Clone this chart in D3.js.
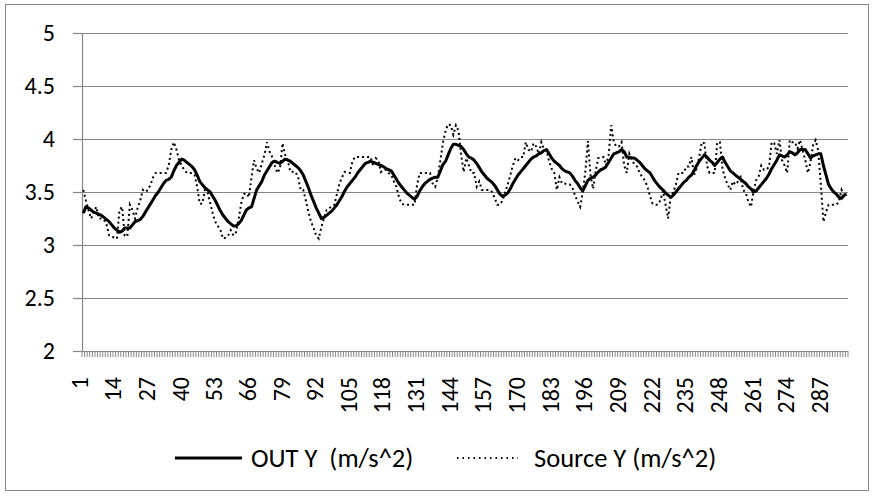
<!DOCTYPE html>
<html>
<head>
<meta charset="utf-8">
<script src="https://cdn.jsdelivr.net/npm/d3@7"></script>
<style>
	body { margin: 0; background: #fff; }
	text { font-family: Carlito, Lato, "Open Sans", sans-serif; fill: #000; }
</style>
</head>
<body>
<div id="line-div"></div>
<script>
//Data

	//Categories 1..296 (sample number)
	var categories = d3.range(1, 297);

	//Category labels shown on the x axis (every 13th)
	var xTickLabels = [1, 14, 27, 40, 53, 66, 79, 92, 105, 118, 131, 144, 157, 170, 183, 196, 209, 222, 235, 248, 261, 274, 287];

	//Y tick values
	var yTickValues = [2, 2.5, 3, 3.5, 4, 4.5, 5];

	//Series names
	var seriesNames = ["OUT Y  (m/s^2)", "Source Y (m/s^2)"];

	//OUT Y (filtered)
	var outY = [
		3.30, 3.36, 3.35, 3.33, 3.31, 3.30, 3.29, 3.28, 3.26, 3.24,
		3.22, 3.19, 3.16, 3.14, 3.12, 3.13, 3.16, 3.16, 3.16, 3.19,
		3.22, 3.23, 3.24, 3.27, 3.31, 3.35, 3.39, 3.43, 3.47, 3.50,
		3.54, 3.58, 3.61, 3.62, 3.64, 3.70, 3.75, 3.78, 3.81, 3.80,
		3.78, 3.76, 3.74, 3.71, 3.66, 3.60, 3.57, 3.54, 3.52, 3.50,
		3.46, 3.42, 3.37, 3.32, 3.28, 3.25, 3.22, 3.20, 3.18, 3.18,
		3.20, 3.23, 3.28, 3.33, 3.35, 3.36, 3.44, 3.52, 3.56, 3.60,
		3.66, 3.70, 3.74, 3.78, 3.79, 3.78, 3.77, 3.79, 3.81, 3.80,
		3.79, 3.77, 3.75, 3.73, 3.70, 3.66, 3.60, 3.54, 3.47, 3.41,
		3.35, 3.30, 3.25, 3.26, 3.28, 3.30, 3.32, 3.35, 3.38, 3.42,
		3.46, 3.51, 3.55, 3.58, 3.61, 3.64, 3.68, 3.71, 3.74, 3.77,
		3.78, 3.79, 3.78, 3.77, 3.76, 3.75, 3.74, 3.72, 3.71, 3.70,
		3.66, 3.62, 3.58, 3.55, 3.52, 3.49, 3.47, 3.45, 3.43, 3.46,
		3.51, 3.55, 3.58, 3.60, 3.62, 3.63, 3.64, 3.64, 3.70, 3.76,
		3.79, 3.85, 3.91, 3.95, 3.95, 3.94, 3.93, 3.90, 3.86, 3.83,
		3.82, 3.80, 3.77, 3.73, 3.69, 3.66, 3.63, 3.61, 3.59, 3.56,
		3.52, 3.48, 3.46, 3.47, 3.49, 3.53, 3.58, 3.62, 3.66, 3.69,
		3.72, 3.75, 3.78, 3.81, 3.83, 3.84, 3.86, 3.87, 3.89, 3.90,
		3.86, 3.82, 3.79, 3.77, 3.75, 3.72, 3.70, 3.69, 3.68, 3.65,
		3.61, 3.58, 3.54, 3.51, 3.56, 3.61, 3.63, 3.64, 3.66, 3.69,
		3.71, 3.72, 3.74, 3.78, 3.82, 3.86, 3.87, 3.88, 3.90, 3.88,
		3.83, 3.83, 3.82, 3.82, 3.80, 3.78, 3.75, 3.72, 3.70, 3.68,
		3.64, 3.60, 3.57, 3.54, 3.52, 3.49, 3.47, 3.45, 3.47, 3.50,
		3.53, 3.56, 3.59, 3.61, 3.64, 3.66, 3.70, 3.75, 3.79, 3.82,
		3.85, 3.83, 3.80, 3.78, 3.75, 3.78, 3.81, 3.83, 3.78, 3.74,
		3.70, 3.68, 3.66, 3.64, 3.62, 3.60, 3.58, 3.55, 3.53, 3.50,
		3.51, 3.54, 3.57, 3.60, 3.63, 3.67, 3.72, 3.76, 3.80, 3.85,
		3.84, 3.83, 3.85, 3.88, 3.87, 3.85, 3.87, 3.90, 3.90, 3.90,
		3.86, 3.82, 3.84, 3.85, 3.86, 3.86, 3.75, 3.66, 3.57, 3.53,
		3.50, 3.48, 3.45, 3.44, 3.47, 3.48
	];

	//Source Y (raw)
	var sourceY = [
		3.52, 3.42, 3.33, 3.25, 3.30, 3.36, 3.25, 3.25, 3.24, 3.19,
		3.09, 3.08, 3.07, 3.06, 3.33, 3.36, 3.09, 3.08, 3.38, 3.33,
		3.25, 3.35, 3.42, 3.52, 3.50, 3.52, 3.57, 3.64, 3.68, 3.68,
		3.68, 3.68, 3.68, 3.75, 3.90, 3.97, 3.90, 3.80, 3.75, 3.71,
		3.68, 3.68, 3.68, 3.66, 3.55, 3.39, 3.39, 3.52, 3.50, 3.40,
		3.30, 3.22, 3.18, 3.14, 3.06, 3.07, 3.09, 3.14, 3.09, 3.12,
		3.24, 3.39, 3.48, 3.49, 3.45, 3.64, 3.80, 3.72, 3.68, 3.77,
		3.85, 3.97, 3.88, 3.83, 3.75, 3.68, 3.72, 3.96, 3.85, 3.80,
		3.69, 3.69, 3.69, 3.64, 3.52, 3.52, 3.42, 3.31, 3.22, 3.16,
		3.09, 3.06, 3.17, 3.25, 3.33, 3.35, 3.36, 3.38, 3.48, 3.58,
		3.64, 3.69, 3.68, 3.68, 3.79, 3.83, 3.83, 3.83, 3.83, 3.83,
		3.83, 3.83, 3.75, 3.82, 3.80, 3.69, 3.71, 3.71, 3.68, 3.66,
		3.60, 3.55, 3.45, 3.39, 3.38, 3.38, 3.38, 3.38, 3.38, 3.57,
		3.68, 3.68, 3.68, 3.68, 3.68, 3.58, 3.55, 3.64, 3.80, 3.97,
		4.08, 4.14, 4.13, 4.04, 4.13, 4.08, 3.85, 3.69, 3.82, 3.75,
		3.68, 3.68, 3.55, 3.60, 3.52, 3.52, 3.52, 3.52, 3.50, 3.44,
		3.38, 3.38, 3.42, 3.50, 3.57, 3.66, 3.75, 3.82, 3.80, 3.83,
		3.83, 3.97, 3.90, 3.88, 3.96, 3.93, 3.86, 3.97, 3.90, 3.89,
		3.79, 3.72, 3.68, 3.52, 3.64, 3.58, 3.58, 3.57, 3.57, 3.54,
		3.47, 3.41, 3.36, 3.50, 3.69, 3.98, 3.66, 3.53, 3.70, 3.82,
		3.82, 3.83, 3.75, 3.85, 4.13, 3.97, 3.93, 3.93, 3.97, 3.75,
		3.68, 3.86, 3.80, 3.76, 3.74, 3.68, 3.64, 3.61, 3.55, 3.46,
		3.39, 3.38, 3.38, 3.42, 3.51, 3.38, 3.25, 3.46, 3.50, 3.57,
		3.68, 3.68, 3.68, 3.74, 3.74, 3.83, 3.66, 3.72, 3.83, 3.97,
		3.96, 3.75, 3.68, 3.68, 3.68, 3.97, 3.97, 3.72, 3.63, 3.57,
		3.52, 3.60, 3.57, 3.60, 3.64, 3.52, 3.49, 3.41, 3.36, 3.51,
		3.61, 3.65, 3.75, 3.71, 3.71, 3.74, 3.97, 3.96, 3.86, 3.99,
		3.80, 3.75, 3.68, 3.99, 3.97, 3.97, 3.91, 3.99, 3.89, 3.80,
		3.68, 3.78, 3.94, 3.99, 3.89, 3.57, 3.22, 3.31, 3.38, 3.38,
		3.38, 3.38, 3.41, 3.52, 3.47, 3.47
	];

//General use variables

	//Canvas size and plot-area margins (plot area runs 82..848 x, 33..351 y)
	var W = 875, H = 496;
	var margin = {top: 33, right: 27, bottom: 145, left: 82},
		w = W - margin.left - margin.right,
		h = H - margin.top - margin.bottom;

	var gridColor = "#868686";
	var axisFont = "24px",
		legendFont = "26.5px";

	//X: one band per sample, labels sit in the middle of the band
	var xScale = d3.scaleBand().domain(categories).range([0, w]).padding(0);
	var xMid = function(c) { return xScale(c) + xScale.bandwidth() / 2; };

	//Y range
	var yScale = d3.scaleLinear().domain([2, 5]).range([h, 0]);

//Set up the canvas
	var root = d3.select("#line-div")
		.append("svg")
		.attr("width", W)
		.attr("height", H);

	//Chart border
	root.append("rect")
		.attr("x", 5.5).attr("y", 4.5)
		.attr("width", 863).attr("height", 486)
		.attr("fill", "#fff")
		.attr("stroke", gridColor)
		.attr("stroke-width", 1);

	var svg = root.append("g")
		.attr("transform", "translate(" + margin.left + "," + margin.top + ")");

//Gridlines
	svg.append("g")
		.attr("class", "grid")
		.selectAll("line")
		.data(yTickValues)
		.enter()
		.append("line")
			.attr("x1", 0)
			.attr("x2", w)
			.attr("y1", function(d) { return Math.round(yScale(d)) + 0.5; })
			.attr("y2", function(d) { return Math.round(yScale(d)) + 0.5; })
			.attr("stroke", gridColor)
			.attr("stroke-width", 1.2);

//Y axis
	var yAxis = d3.axisLeft(yScale)
		.tickValues(yTickValues)
		.tickSize(9)
		.tickPadding(18)
		.tickFormat(d3.format(""));

	var yG = svg.append("g")
		.attr("class", "axis y-axis")
		.call(yAxis);
	yG.select(".domain").attr("stroke", gridColor).attr("stroke-width", 1.2);
	yG.selectAll(".tick line").attr("stroke", gridColor).attr("stroke-width", 1.2);
	yG.selectAll(".tick text")
		.style("font-size", axisFont)
		.attr("fill", "#000");

//X axis - tick marks between every category (Excel style)
	var boundaries = categories.map(function(c) { return xScale(c); }).concat([w]);
	svg.append("g")
		.attr("class", "x-ticks")
		.selectAll("line")
		.data(boundaries)
		.enter()
		.append("line")
			.attr("x1", function(d) { return d; })
			.attr("x2", function(d) { return d; })
			.attr("y1", h)
			.attr("y2", h + 6)
			.attr("stroke", gridColor)
			.attr("stroke-width", 1);

	//X axis line
	svg.append("line")
		.attr("x1", 0).attr("x2", w)
		.attr("y1", h + 0.5).attr("y2", h + 0.5)
		.attr("stroke", gridColor)
		.attr("stroke-width", 1.2);

	//X labels (rotated, every 13th)
	svg.append("g")
		.attr("class", "x-labels")
		.selectAll("text")
		.data(xTickLabels)
		.enter()
		.append("text")
			.attr("transform", function(d) { return "translate(" + (xMid(d) - 4) + "," + (h + 26) + ") rotate(-90)"; })
			.attr("text-anchor", "end")
			.attr("dy", "0.35em")
			.style("font-size", axisFont)
			.text(function(d) { return d; });

//Lines
	var makeLine = function(values) {
		return d3.line()
			.x(function(d, i) { return xMid(categories[i]); })
			.y(function(d) { return yScale(d); })(values);
	};

	svg.append("path")
		.attr("class", "line source")
		.attr("d", makeLine(sourceY))
		.attr("fill", "none")
		.attr("stroke", "#000")
		.attr("stroke-width", 2)
		.attr("stroke-dasharray", "2,3");

	svg.append("path")
		.attr("class", "line out")
		.attr("d", makeLine(outY))
		.attr("fill", "none")
		.attr("stroke", "#000")
		.attr("stroke-width", 3)
		.attr("stroke-linejoin", "round");

//Legend
	var legend = root.append("g").attr("class", "legend");
	var legendY = 458;

	legend.append("line")
		.attr("x1", 175).attr("x2", 242)
		.attr("y1", legendY).attr("y2", legendY)
		.attr("stroke", "#000").attr("stroke-width", 3);
	legend.append("text")
		.attr("x", 251).attr("y", legendY)
		.attr("dy", "0.35em")
		.style("font-size", legendFont)
		.style("white-space", "pre")
		.attr("xml:space", "preserve")
		.text(seriesNames[0]);

	legend.append("line")
		.attr("x1", 457).attr("x2", 518)
		.attr("y1", legendY).attr("y2", legendY)
		.attr("stroke", "#000").attr("stroke-width", 2)
		.attr("stroke-dasharray", "1.5,4");
	legend.append("text")
		.attr("x", 534).attr("y", legendY)
		.attr("dy", "0.35em")
		.style("font-size", legendFont)
		.text(seriesNames[1]);
</script>
</body>
</html>
